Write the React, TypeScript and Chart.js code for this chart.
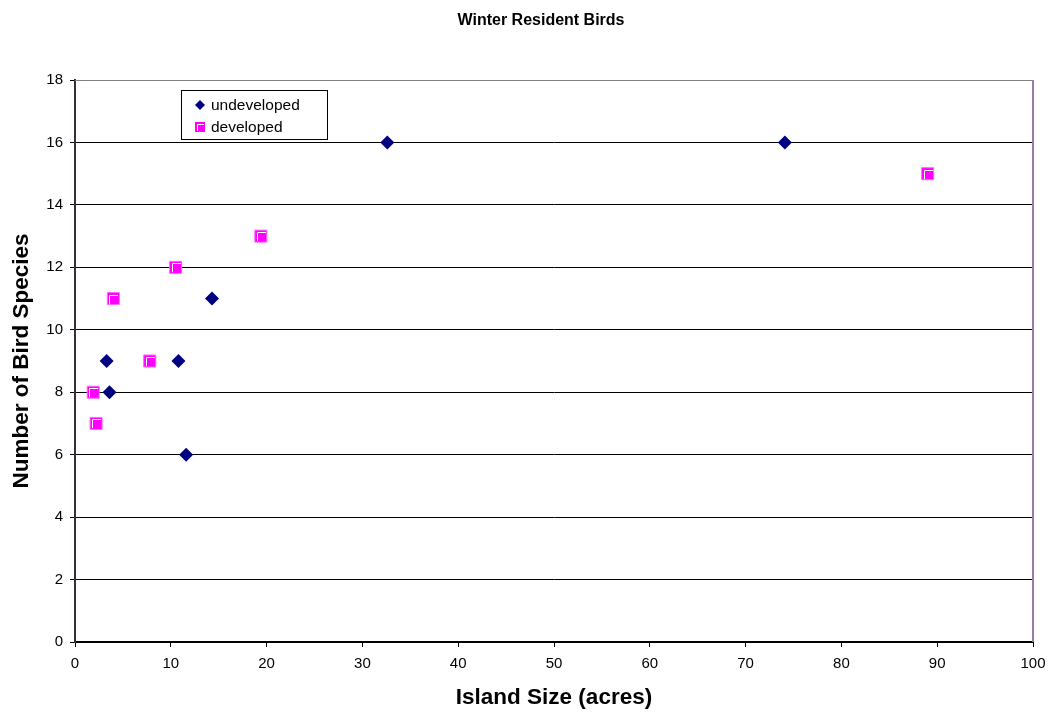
import React, { useEffect, useRef } from "react";
import { Chart, registerables } from "chart.js";

Chart.register(...registerables);

const undevelopedX = [32.6, 74.1, 14.3, 3.3, 10.8, 3.6, 11.6];
const undevelopedY = [16, 16, 11, 9, 9, 8, 6];
const developedX = [89.0, 19.4, 10.5, 4.0, 7.8, 1.9, 2.2];
const developedY = [15, 13, 12, 11, 9, 8, 7];
const seriesNames = ["undeveloped", "developed"];
const chartTitle = "Winter Resident Birds";
const xTitle = "Island Size (acres)";
const yTitle = "Number of Bird Species";

const FONT = "Arial, 'Liberation Sans', sans-serif";

const framePlugin = {
  id: "frame",
  afterDraw(chart: any) {
    const { ctx, chartArea } = chart;
    const { left, right, top, bottom } = chartArea;
    ctx.save();
    // top border gray
    ctx.strokeStyle = "#808080";
    ctx.lineWidth = 1;
    ctx.beginPath();
    ctx.moveTo(left, top + 0.5);
    ctx.lineTo(right, top + 0.5);
    ctx.stroke();
    // right border purple
    ctx.strokeStyle = "#9b7ba5";
    ctx.lineWidth = 2;
    ctx.beginPath();
    ctx.moveTo(right, top);
    ctx.lineTo(right, bottom);
    ctx.stroke();
    // title
    ctx.fillStyle = "#000";
    ctx.font = `bold 16px ${FONT}`;
    ctx.textAlign = "center";
    ctx.textBaseline = "middle";
    ctx.fillText(chartTitle, 541, 21);
    // legend
    const lx = 181, ly = 90, lw = 146, lh = 49;
    ctx.fillStyle = "#fff";
    ctx.fillRect(lx, ly, lw, lh);
    ctx.strokeStyle = "#000";
    ctx.lineWidth = 1;
    ctx.strokeRect(lx + 0.5, ly + 0.5, lw, lh);
    ctx.font = `15.5px ${FONT}`;
    ctx.textAlign = "left";
    ctx.fillStyle = "#000";
    ctx.fillText(seriesNames[0], 211, 106);
    ctx.fillText(seriesNames[1], 211, 128);
    // diamond
    ctx.fillStyle = "#000080";
    ctx.beginPath();
    const dx = 200, dy = 105, r = 5;
    ctx.moveTo(dx, dy - r);
    ctx.lineTo(dx + r, dy);
    ctx.lineTo(dx, dy + r);
    ctx.lineTo(dx - r, dy);
    ctx.closePath();
    ctx.fill();
    // square
    ctx.fillStyle = "#ff00ff";
    ctx.fillRect(195, 122, 10, 10);
    ctx.strokeStyle = "#ffffff";
    ctx.beginPath();
    ctx.moveTo(197.5, 131);
    ctx.lineTo(197.5, 124.5);
    ctx.lineTo(204, 124.5);
    ctx.stroke();
    ctx.restore();
  },
};

const squareHighlight = {
  id: "squareHighlight",
  afterDatasetsDraw(chart: any) {
    const { ctx } = chart;
    const meta = chart.getDatasetMeta(1);
    ctx.save();
    ctx.strokeStyle = "#ffffff";
    ctx.lineWidth = 1;
    meta.data.forEach((p: any) => {
      const x = Math.round(p.x), y = Math.round(p.y);
      ctx.beginPath();
      ctx.moveTo(x - 3.5, y + 5);
      ctx.lineTo(x - 3.5, y - 3.5);
      ctx.lineTo(x + 5, y - 3.5);
      ctx.stroke();
    });
    ctx.restore();
  },
};

export default function App() {
  const ref = useRef<HTMLCanvasElement>(null);
  useEffect(() => {
    document.body.style.margin = "0";
    const c = new Chart(ref.current!, {
      type: "scatter",
      data: {
        datasets: [
          {
            label: seriesNames[0],
            data: undevelopedX.map((x, i) => ({ x, y: undevelopedY[i] })),
            pointStyle: "rectRot",
            pointRadius: 7,
            backgroundColor: "#000080",
            borderColor: "#000080",
            borderWidth: 0,
          },
          {
            label: seriesNames[1],
            data: developedX.map((x, i) => ({ x, y: developedY[i] })),
            pointStyle: "rect",
            pointRadius: 8.5,
            backgroundColor: "#ff00ff",
            borderColor: "#ff66ff",
            borderWidth: 1,
          },
        ],
      },
      plugins: [framePlugin, squareHighlight],
      options: {
        animation: false,
        responsive: false,
        layout: { padding: { top: 80, right: 16, left: 0, bottom: 0 } },
        plugins: {
          legend: { display: false },
          title: { display: false },
          tooltip: { enabled: false },
        },
        scales: {
          x: {
            type: "linear",
            min: 0,
            max: 100,
            afterFit(scale: any) {
              scale.height = 70;
              scale.paddingLeft = 0;
              scale.paddingRight = 0;
            },
            ticks: {
              stepSize: 10,
              color: "#000",
              font: { family: FONT, size: 15 },
              padding: 8,
              maxRotation: 0,
            },
            grid: {
              drawOnChartArea: false,
              drawTicks: true,
              tickLength: 5,
              color: "#000",
            },
            border: { color: "#000", width: 2 },
            title: {
              display: true,
              text: xTitle,
              color: "#000",
              font: { family: FONT, size: 22.5, weight: "bold" },
              padding: { top: 0, bottom: 1 },
            },
          },
          y: {
            min: 0,
            max: 18,
            afterFit(scale: any) {
              scale.width = 75;
              scale.paddingTop = 0;
              scale.paddingBottom = 0;
            },
            ticks: {
              stepSize: 2,
              color: "#000",
              font: { family: FONT, size: 15 },
              padding: 7,
            },
            grid: {
              color: "#000",
              lineWidth: 1,
              drawTicks: true,
              tickLength: 5,
            },
            border: { color: "#3a2a3a", width: 2 },
            title: {
              display: true,
              text: yTitle,
              color: "#000",
              font: { family: FONT, size: 22.5, weight: "bold" },
              padding: { top: 8.5, bottom: 0 },
            },
          },
        },
      },
    });
    return () => c.destroy();
  }, []);
  return (
    <div style={{ width: 1049, height: 712 }}>
      <canvas ref={ref} width={1049} height={712} style={{ display: "block", background: "#fff" }} />
    </div>
  );
}
